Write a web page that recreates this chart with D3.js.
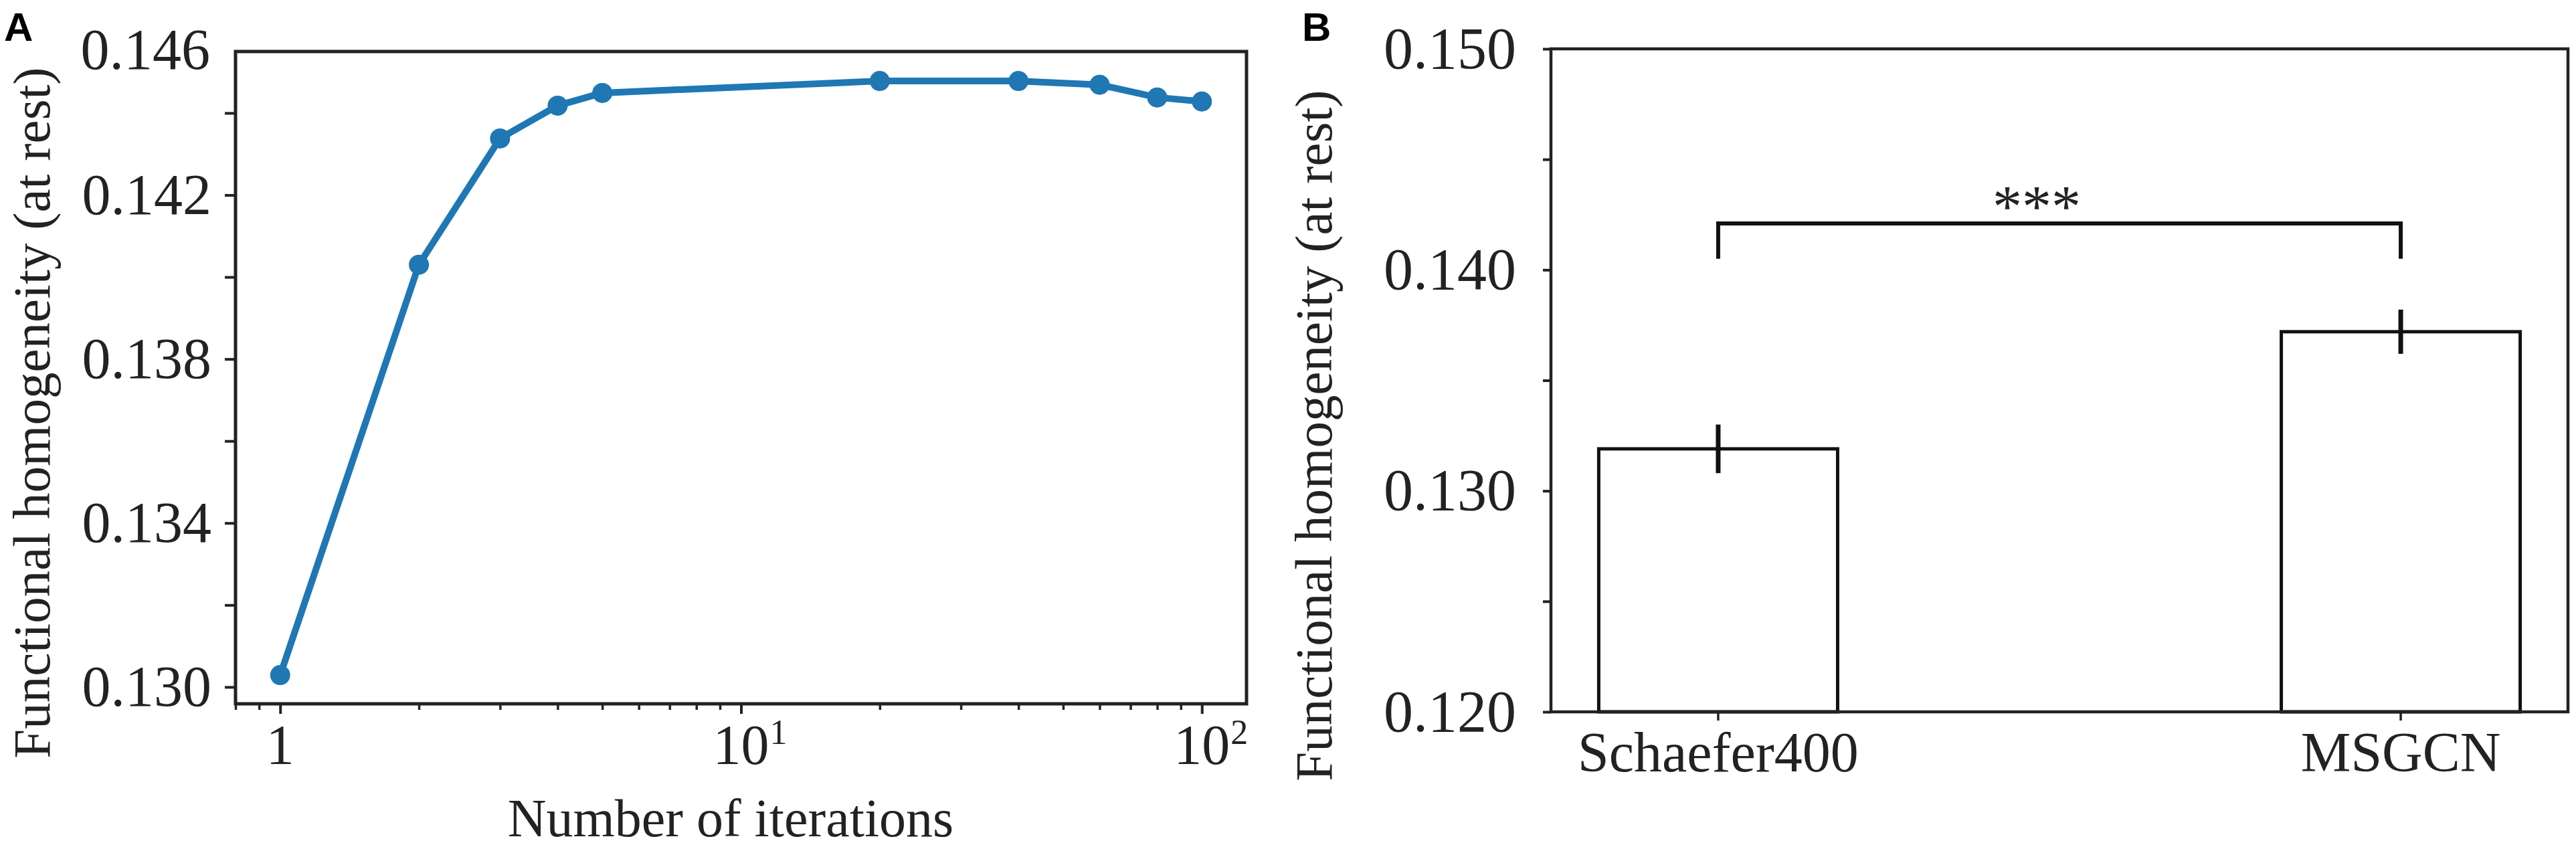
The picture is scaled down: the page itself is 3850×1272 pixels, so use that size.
<!DOCTYPE html>
<html>
<head>
<meta charset="utf-8">
<script src="https://cdn.jsdelivr.net/npm/d3@7"></script>
<style>
  body { margin: 0; background: #fff; }
  svg text { font-family: "Liberation Serif", "Times New Roman", serif; fill: #222; }
  svg .panel-label { font-family: "Liberation Sans", Arial, sans-serif; font-weight: bold; fill: #000; }
</style>
</head>
<body>
<svg id="chart" width="3850" height="1272"></svg>
<script>
// ---- panel A: homogeneity vs number of iterations (log x) ----
const iterations = [1, 2, 3, 4, 5, 20, 40, 60, 80, 100];
const homogeneityA = [0.13029, 0.14030, 0.14338, 0.14418, 0.14449, 0.14478, 0.14478, 0.14469, 0.14438, 0.14428];
const yTicksA = [0.130, 0.132, 0.134, 0.136, 0.138, 0.140, 0.142, 0.144];
const yLabelsA = [0.130, 0.134, 0.138, 0.142];
const yTopLabelA = '0.146';
const xMajorA = [1, 10, 100];

// ---- panel B: bar chart with error bars ----
const methods = ['Schaefer400', 'MSGCN'];
const homogeneityB = [0.1319, 0.1372];
const errorB = [0.0011, 0.0010];
const yTicksB = [0.120, 0.125, 0.130, 0.135, 0.140, 0.145, 0.150];
const yLabelsB = [0.120, 0.130, 0.140, 0.150];
const bracketTop = 0.1421;
const bracketLeg = 0.1405;
const sigLabel = '***';

const yTitle = 'Functional homogeneity (at rest)';
const xTitleA = 'Number of iterations';

const svg = d3.select('#chart');
const fmt = d3.format('.3f');
const isIn = (list, d) => list.some(v => Math.abs(v - d) < 1e-9);

function styleAxis(g, fontSize, width) {
    g.select('.domain').remove();
    g.selectAll('.tick line').attr('stroke', '#222').attr('stroke-width', width);
    g.selectAll('.tick text').attr('font-size', fontSize).attr('fill', '#222')
        .style('font-family', '"Liberation Serif", "Times New Roman", serif');
}

// ================= Panel A =================
const A = { left: 352, right: 1863, top: 77, bottom: 1052 };
const xA = d3.scaleLog().domain([0.8, 125]).range([A.left, A.right]);
const yA = d3.scaleLinear().domain([0.12959, 0.1455]).range([A.bottom, A.top]);

const gA = svg.append('g');

// y axis
gA.append('g')
    .attr('transform', `translate(${A.left},0)`)
    .call(d3.axisLeft(yA).tickValues(yTicksA).tickSize(16).tickPadding(20)
        .tickFormat(d => isIn(yLabelsA, d) ? fmt(d) : ''))
    .call(g => styleAxis(g, 86, 4));

// top label sits just at the upper edge of the frame
gA.append('text')
    .attr('x', A.left - 38)
    .attr('y', yA.range()[1])
    .attr('dy', '0.3em')
    .attr('text-anchor', 'end')
    .attr('font-size', 86)
    .text(yTopLabelA);

// x axis: minor ticks then majors
const minorA = xA.ticks().filter(d => !isIn(xMajorA, d));
gA.append('g')
    .attr('transform', `translate(0,${A.bottom})`)
    .call(d3.axisBottom(xA).tickValues(minorA).tickSize(9).tickFormat(''))
    .call(g => styleAxis(g, 80, 3.5));
gA.append('g')
    .attr('transform', `translate(0,${A.bottom})`)
    .call(d3.axisBottom(xA).tickValues(xMajorA).tickSize(15).tickFormat(''))
    .call(g => styleAxis(g, 80, 4));

// tick labels 1, 10^1, 10^2
const xLab = gA.append('g').selectAll('g')
    .data(xMajorA)
    .enter()
    .append('g')
    .attr('transform', d => `translate(${xA(d)},${A.bottom + 90})`);
xLab.append('text')
    .attr('text-anchor', 'middle')
    .attr('font-size', 84)
    .text(d => d === 1 ? '1' : '10');
xLab.filter(d => d !== 1)
    .append('text')
    .attr('x', 43)
    .attr('y', -30)
    .attr('font-size', 52)
    .text(d => Math.round(Math.log10(d)));

// frame
gA.append('rect')
    .attr('x', A.left).attr('y', A.top)
    .attr('width', A.right - A.left).attr('height', A.bottom - A.top)
    .attr('fill', 'none').attr('stroke', '#222').attr('stroke-width', 5);

// line + markers
gA.append('path')
    .datum(iterations.map((d, i) => [d, homogeneityA[i]]))
    .attr('fill', 'none')
    .attr('stroke', '#1f77b4')
    .attr('stroke-width', 10)
    .attr('stroke-linejoin', 'round')
    .attr('d', d3.line().x(d => xA(d[0])).y(d => yA(d[1])));

gA.selectAll('circle')
    .data(iterations)
    .enter()
    .append('circle')
    .attr('cx', d => xA(d))
    .attr('cy', (d, i) => yA(homogeneityA[i]))
    .attr('r', 15)
    .attr('fill', '#1f77b4');

// titles
gA.append('text')
    .attr('transform', `translate(74,617) rotate(-90)`)
    .attr('text-anchor', 'middle')
    .attr('font-size', 79)
    .text(yTitle);
gA.append('text')
    .attr('x', 1092).attr('y', 1250)
    .attr('text-anchor', 'middle')
    .attr('font-size', 80)
    .text(xTitleA);
svg.append('text').attr('class', 'panel-label')
    .attr('x', 6).attr('y', 61).attr('font-size', 60).text('A');

// ================= Panel B =================
const B = { left: 2318, right: 3838, top: 73, bottom: 1064 };
const xB = d3.scaleBand().domain(methods).range([B.left, B.right])
    .paddingInner(0.65).paddingOuter(0.07);
const yB = d3.scaleLinear().domain([0.120, 0.150]).range([B.bottom, B.top]);

const gB = svg.append('g');

gB.append('g')
    .attr('transform', `translate(${B.left},0)`)
    .call(d3.axisLeft(yB).tickValues(yTicksB).tickSize(12).tickPadding(40)
        .tickFormat(d => isIn(yLabelsB, d) ? fmt(d) : ''))
    .call(g => styleAxis(g, 88, 4));

gB.append('g')
    .attr('transform', `translate(0,${B.bottom})`)
    .call(d3.axisBottom(xB).tickSize(13).tickPadding(16))
    .call(g => styleAxis(g, 84, 3.5));

// bars
gB.selectAll('rect.bar')
    .data(methods)
    .enter()
    .append('rect')
    .attr('class', 'bar')
    .attr('x', d => xB(d))
    .attr('y', (d, i) => yB(homogeneityB[i]))
    .attr('width', xB.bandwidth())
    .attr('height', (d, i) => B.bottom - yB(homogeneityB[i]))
    .attr('fill', '#fff')
    .attr('stroke', '#111')
    .attr('stroke-width', 5);

// error bars
gB.selectAll('line.err')
    .data(methods)
    .enter()
    .append('line')
    .attr('class', 'err')
    .attr('x1', d => xB(d) + xB.bandwidth() / 2)
    .attr('x2', d => xB(d) + xB.bandwidth() / 2)
    .attr('y1', (d, i) => yB(homogeneityB[i] - errorB[i]))
    .attr('y2', (d, i) => yB(homogeneityB[i] + errorB[i]))
    .attr('stroke', '#111')
    .attr('stroke-width', 7);

// frame
gB.append('rect')
    .attr('x', B.left).attr('y', B.top)
    .attr('width', B.right - B.left).attr('height', B.bottom - B.top)
    .attr('fill', 'none').attr('stroke', '#222').attr('stroke-width', 4.5);

// significance bracket
const c0 = xB(methods[0]) + xB.bandwidth() / 2;
const c1 = xB(methods[1]) + xB.bandwidth() / 2;
gB.append('path')
    .attr('d', `M${c0},${yB(bracketLeg)}V${yB(bracketTop)}H${c1}V${yB(bracketLeg)}`)
    .attr('fill', 'none')
    .attr('stroke', '#111')
    .attr('stroke-width', 6);
gB.append('text')
    .attr('x', (c0 + c1) / 2 - 34)
    .attr('y', yB(bracketTop) + 4)
    .attr('text-anchor', 'middle')
    .attr('font-size', 88)
    .text(sigLabel);

gB.append('text')
    .attr('transform', `translate(1990,651) rotate(-90)`)
    .attr('text-anchor', 'middle')
    .attr('font-size', 79)
    .text(yTitle);
svg.append('text').attr('class', 'panel-label')
    .attr('x', 1946).attr('y', 61).attr('font-size', 60).text('B');
</script>
</body>
</html>
